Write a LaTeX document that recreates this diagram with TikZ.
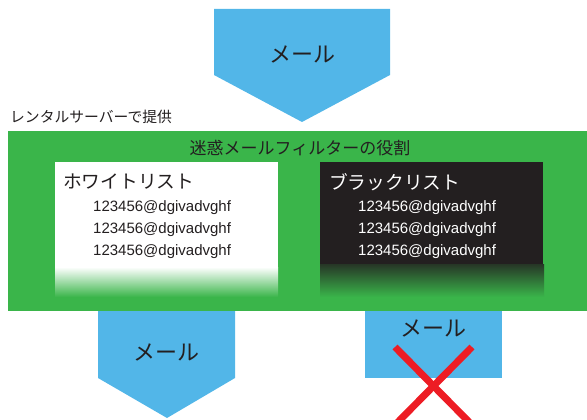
\documentclass[tikz,border=0pt]{standalone}
\usepackage{fontspec}
\setmainfont{Noto Sans CJK JP}
\newfontfamily\mailfont{Liberation Sans}
\definecolor{mblue}{HTML}{52B6E8}
\definecolor{mgreen}{HTML}{3AB54A}
\definecolor{mdark}{HTML}{231F20}
\definecolor{mred}{HTML}{ED1C24}
\begin{document}
\begin{tikzpicture}[x=1pt,y=-1pt,
  arrowshape/.style={fill=mblue,draw=none},
  mailtxt/.style={font=\fontsize{22}{24}\selectfont,text=mdark,inner sep=0pt},
  titletxt/.style={font=\fontsize{18.7}{20}\selectfont,inner sep=0pt,anchor=west},
  addr/.style={font=\mailfont\fontsize{15}{16}\selectfont,inner sep=0pt,anchor=west}]
\useasboundingbox (0,0) rectangle (587,420);
% top arrow
\fill[arrowshape] (214,9) -- (390,9) -- (390,75) -- (302,122) -- (214,75) -- cycle;
\node[mailtxt] (mail1) at (302,54) {メール};
% server label
\node[font=\fontsize{14.8}{16}\selectfont,text=mdark,inner sep=0pt,anchor=west] (server) at (10,117) {レンタルサーバーで提供};
% green area
\fill[mgreen] (8,131) rectangle (587,311);
\node[font=\fontsize{17}{19}\selectfont,text=mdark,inner sep=0pt] (filter) at (300,148) {迷惑メールフィルターの役割};
% white list
\fill[white] (55,162) rectangle (278,268);
\shade[top color=white,bottom color=mgreen] (55,267) rectangle (278,297);
\node[titletxt,text=mdark] (wl) at (63,182) {ホワイトリスト};
\node[addr,text=mdark] (w1) at (93,208) {123456@dgivadvghf};
\node[addr,text=mdark] (w2) at (93,230) {123456@dgivadvghf};
\node[addr,text=mdark] (w3) at (93,252) {123456@dgivadvghf};
% black list
\fill[mdark] (320,162) rectangle (543,265);
\shade[top color=mdark!85!mgreen,bottom color=mgreen] (320,264) rectangle (544,297);
\node[titletxt,text=white] (bl) at (329,182) {ブラックリスト};
\node[addr,text=white] (b1) at (358,208) {123456@dgivadvghf};
\node[addr,text=white] (b2) at (358,230) {123456@dgivadvghf};
\node[addr,text=white] (b3) at (358,252) {123456@dgivadvghf};
% bottom left arrow
\fill[arrowshape] (98,311) -- (235,311) -- (235,378) -- (167,418) -- (98,378) -- cycle;
\node[mailtxt] (mail2) at (166,352) {メール};
% bottom right blocked mail
\fill[arrowshape] (365,311) rectangle (502,378);
\node[mailtxt] (mail3) at (433,328) {メール};
\coordinate (xa) at (395,347);
\coordinate (xb) at (472,347);
\coordinate (xc) at (395,425);
\coordinate (xd) at (472,425);
\draw[mred,line width=7pt] (xa) -- (xd);
\draw[mred,line width=7pt] (xb) -- (xc);
\end{tikzpicture}
\end{document}
